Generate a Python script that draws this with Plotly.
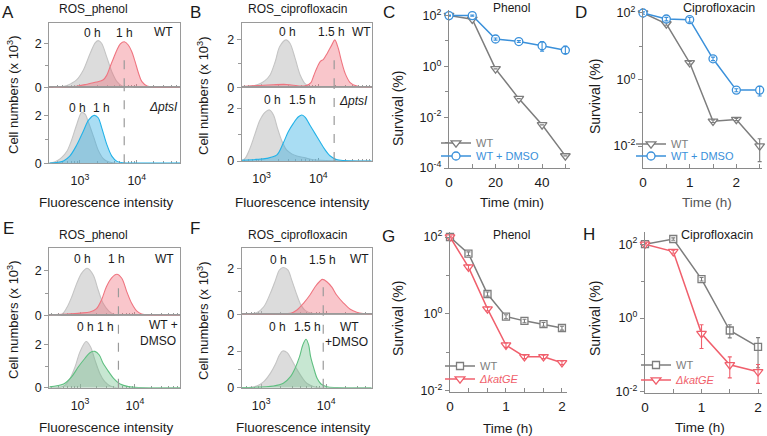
import numpy as np
import plotly.graph_objects as go

# ======================= DATA =======================
# Flow-cytometry histograms: log10(fluorescence intensity) vs cell numbers (x10^3)
# Panel A (ROS_phenol, WT / dptsI)
A_top_0h_log = [2.53, 2.65, 2.77, 2.85, 2.94, 3.06, 3.18, 3.27, 3.32, 3.38, 3.47, 3.56, 3.65, 3.74, 3.82, 3.94]
A_top_0h_n = [0.0, 0.02, 0.08, 0.18, 0.34, 0.8, 1.57, 2.06, 2.15, 2.03, 1.4, 0.72, 0.26, 0.06, 0.0, 0.0]
A_top_1h_log = [2.46, 2.77, 2.94, 3.12, 3.29, 3.41, 3.47, 3.53, 3.59, 3.65, 3.71, 3.78, 3.85, 3.91, 3.97, 4.03, 4.09, 4.18, 4.29, 4.76]
A_top_1h_n = [0.0, 0.02, 0.05, 0.14, 0.24, 0.35, 0.55, 0.95, 1.34, 1.72, 2.0, 2.1, 1.95, 1.65, 1.18, 0.65, 0.26, 0.06, 0.01, 0.0]
A_bot_0h_log = [2.46, 2.5, 2.59, 2.68, 2.77, 2.85, 2.94, 3.03, 3.09, 3.15, 3.24, 3.32, 3.41, 3.5, 3.62, 4.76]
A_bot_0h_n = [0.0, 0.02, 0.1, 0.25, 0.5, 0.95, 1.6, 2.12, 2.05, 1.7, 1.1, 0.55, 0.2, 0.06, 0.0, 0.0]
A_bot_1h_log = [2.46, 2.59, 2.71, 2.82, 2.94, 3.06, 3.15, 3.25, 3.32, 3.38, 3.47, 3.56, 3.65, 3.77, 3.94, 4.76]
A_bot_1h_n = [0.01, 0.03, 0.1, 0.3, 0.75, 1.35, 1.8, 2.0, 1.9, 1.5, 0.8, 0.3, 0.08, 0.02, 0.01, 0.01]

# Panel B (ROS_ciprofloxacin, WT / dptsI)
B_top_0h_log = [2.65, 2.68, 2.85, 2.97, 3.06, 3.15, 3.24, 3.32, 3.43, 3.5, 3.59, 3.68, 3.77, 3.85, 3.94, 4.94]
B_top_0h_n = [0.0, 0.02, 0.06, 0.15, 0.28, 0.52, 1.08, 1.72, 2.0, 1.86, 1.23, 0.52, 0.14, 0.02, 0.0, 0.0]
B_top_15h_log = [2.65, 2.91, 3.21, 3.44, 3.68, 3.79, 3.87, 3.92, 3.98, 4.04, 4.09, 4.16, 4.24, 4.29, 4.35, 4.41, 4.47, 4.56, 4.68, 4.94]
B_top_15h_n = [0.03, 0.07, 0.11, 0.12, 0.05, 0.08, 0.2, 0.5, 0.85, 1.1, 1.18, 1.45, 1.8, 2.0, 1.65, 1.08, 0.6, 0.2, 0.05, 0.0]
B_bot_0h_log = [2.65, 2.71, 2.79, 2.88, 2.97, 3.06, 3.14, 3.21, 3.28, 3.35, 3.44, 3.53, 3.62, 3.77, 3.91, 4.94]
B_bot_0h_n = [0.02, 0.1, 0.45, 1.0, 1.55, 1.85, 1.94, 1.75, 1.25, 0.8, 0.42, 0.27, 0.19, 0.12, 0.05, 0.0]
B_bot_15h_log = [2.65, 2.91, 3.09, 3.27, 3.38, 3.47, 3.56, 3.65, 3.71, 3.77, 3.85, 3.94, 4.03, 4.12, 4.21, 4.32, 4.44, 4.94]
B_bot_15h_n = [0.03, 0.06, 0.1, 0.23, 0.67, 1.11, 1.43, 1.68, 1.75, 1.66, 1.37, 1.05, 0.73, 0.42, 0.19, 0.06, 0.02, 0.0]

# Panel E (ROS_phenol, WT / WT + DMSO)
E_top_0h_log = [2.44, 2.67, 2.76, 2.85, 2.94, 3.03, 3.13, 3.24, 3.33, 3.42, 3.52, 3.61, 3.73, 4.82]
E_top_0h_n = [0.0, 0.05, 0.35, 0.84, 1.44, 1.9, 2.12, 1.82, 1.14, 0.54, 0.2, 0.05, 0.0, 0.0]
E_top_1h_log = [2.44, 2.76, 3.0, 3.18, 3.3, 3.39, 3.48, 3.58, 3.67, 3.76, 3.85, 3.94, 4.03, 4.12, 4.24, 4.82]
E_top_1h_n = [0.02, 0.06, 0.1, 0.15, 0.3, 0.69, 1.29, 1.7, 1.85, 1.67, 1.07, 0.54, 0.2, 0.06, 0.01, 0.0]
E_bot_0h_log = [2.44, 2.64, 2.73, 2.82, 2.91, 3.0, 3.11, 3.19, 3.27, 3.36, 3.45, 3.55, 3.67, 4.82]
E_bot_0h_n = [0.0, 0.02, 0.12, 0.44, 0.98, 1.69, 2.16, 1.92, 1.3, 0.67, 0.28, 0.08, 0.0, 0.0]
E_bot_1h_log = [2.44, 2.7, 2.85, 2.97, 3.09, 3.18, 3.27, 3.35, 3.42, 3.52, 3.61, 3.73, 3.88, 4.09, 4.82]
E_bot_1h_n = [0.04, 0.17, 0.52, 0.98, 1.38, 1.64, 1.7, 1.53, 1.14, 0.75, 0.44, 0.17, 0.05, 0.01, 0.0]

# Panel F (ROS_ciprofloxacin, WT / WT + DMSO)
F_top_0h_log = [2.7, 2.83, 2.93, 3.04, 3.14, 3.22, 3.28, 3.34, 3.41, 3.47, 3.54, 3.61, 3.68, 3.78, 3.91, 4.7]
F_top_0h_n = [0.0, 0.02, 0.07, 0.33, 0.91, 1.49, 1.93, 2.04, 1.93, 1.49, 0.91, 0.41, 0.16, 0.04, 0.0, 0.0]
F_top_15h_log = [2.7, 3.24, 3.45, 3.55, 3.65, 3.75, 3.83, 3.91, 3.94, 4.01, 4.09, 4.16, 4.27, 4.37, 4.47, 4.57, 4.7]
F_top_15h_n = [0.0, 0.02, 0.04, 0.19, 0.48, 0.84, 1.2, 1.46, 1.52, 1.42, 1.17, 0.84, 0.48, 0.22, 0.09, 0.03, 0.0]
F_bot_0h_log = [2.7, 2.83, 2.93, 3.04, 3.14, 3.22, 3.28, 3.33, 3.4, 3.47, 3.55, 3.63, 3.7, 3.81, 3.91, 4.7]
F_bot_0h_n = [0.0, 0.02, 0.09, 0.33, 0.78, 1.29, 1.78, 2.0, 1.91, 1.51, 1.0, 0.55, 0.24, 0.05, 0.0, 0.0]
F_bot_15h_log = [2.7, 3.19, 3.34, 3.45, 3.52, 3.59, 3.64, 3.69, 3.73, 3.76, 3.81, 3.86, 3.92, 4.01, 4.16, 4.7]
F_bot_15h_n = [0.01, 0.09, 0.24, 0.6, 1.05, 1.69, 2.33, 2.64, 2.33, 1.69, 1.05, 0.51, 0.2, 0.05, 0.01, 0.0]

# dashed reference lines: WT treated peak intensity, and height reached in the upper histogram
dash_intensity = {"A": 6000, "B": 19000, "E": 5000, "F": 9000}
dash_top = {"A": 1.5, "B": 1.45, "E": 1.6, "F": 1.3}

hist_xticks = [1000, 10000]
hist_xticklabels = ["10<sup>3</sup>", "10<sup>4</sup>"]
hist_yticks = [0, 2]
hist_yticklabels = ["0", "2"]

# Survival curves (%)
C_time = [0, 10, 20, 30, 40, 50]
C_wt = [100, 72, 0.8, 0.054, 0.005, 0.0003]
C_dmso = [100, 100, 12, 9.5, 6.5, 4.3]
C_dmso_up = [5, 6, 1.2, 0.8, 3.0, 2.0]
C_dmso_dn = [5, 6, 1.2, 0.8, 2.5, 1.1]

D_time = [0, 0.5, 1, 1.5, 2, 2.5]
D_wt = [100, 47, 3.2, 0.056, 0.063, 0.01]
D_wt_up = [4, 4, 0.3, 0.005, 0.005, 0.0066]
D_wt_dn = [4, 4, 0.3, 0.005, 0.005, 0.0066]
D_dmso = [100, 66, 63, 4.2, 0.48, 0.48]
D_dmso_up = [8, 8, 10, 0.5, 0.05, 0.15]
D_dmso_dn = [8, 8, 10, 0.5, 0.05, 0.16]

G_time = [0, 0.33, 0.67, 1, 1.33, 1.67, 2]
G_wt = [100, 37, 3.3, 0.85, 0.66, 0.54, 0.43]
G_wt_err = [5, 4, 0.4, 0.1, 0.07, 0.06, 0.05]
G_kat = [100, 16.5, 1.35, 0.155, 0.077, 0.077, 0.054]
G_kat_err = [5, 2, 0.15, 0.02, 0.008, 0.008, 0.006]

H_time = [0, 0.5, 1, 1.5, 2]
H_wt = [100, 138, 11.3, 0.46, 0.165]
H_wt_up = [5, 10, 1.2, 0.2, 0.13]
H_wt_dn = [5, 10, 1.2, 0.17, 0.12]
H_kat = [100, 63, 0.38, 0.054, 0.035]
H_kat_up = [5, 6, 0.28, 0.035, 0.02]
H_kat_dn = [5, 6, 0.23, 0.03, 0.018]

surv_yticks = [1e2, 1e0, 1e-2, 1e-4]
surv_yticklabels = ["10<sup>2</sup>", "10<sup>0</sup>", "10<sup>-2</sup>", "10<sup>-4</sup>"]
surv_yminor = [1e1, 1e-1, 1e-3]

# ======================= STYLE / LAYOUT =======================
FONT = "Liberation Sans, Arial, Helvetica, sans-serif"
W, H = 767, 436
TXT = "#1a1a1a"
BOX = "#9a9a9a"
AXC = "#8a8a8a"
GRAY_L, GRAY_F = "#c4c4c4", "rgba(185,185,185,0.50)"
RED_L, RED_F = "#ef7580", "rgba(240,105,118,0.38)"
BLUE_L, BLUE_F = "#22b2e8", "rgba(40,170,225,0.40)"
GREEN_L, GREEN_F = "#5fbf80", "rgba(95,185,125,0.35)"
S_GRAY, S_BLUE, S_RED = "#7d7d7d", "#3a90da", "#f05f6c"


def fx(p):
    return p / W


def fy(p):
    return 1 - p / H


def axn(n, k):
    return f"{k}axis" if n == 1 else f"{k}axis{n}"


def ref(n, k):
    return k if n == 1 else f"{k}{n}"


fig = go.Figure()
layout = {}
annotations = []


def ann(text, x, y, size=12, color=TXT, angle=0, xanchor="center", **kw):
    annotations.append(dict(text=text, x=fx(x), y=fy(y), xref="paper", yref="paper",
                            showarrow=False, font=dict(size=size, color=color, family=FONT),
                            textangle=angle, xanchor=xanchor, yanchor="middle", **kw))


minor_log = [m * 10 ** e for e in (2, 3, 4) for m in range(2, 10)]


def hist_panel(nt, nb, xpx, ytop, ybot, xr, yr_t, yr_b):
    common_x = dict(type="log", range=xr, domain=[fx(xpx[0]), fx(xpx[1])], showline=True,
                    linecolor=BOX, linewidth=1, mirror=True, ticks="inside", ticklen=3.5,
                    tickwidth=1, tickcolor=BOX, tickvals=hist_xticks, ticktext=hist_xticklabels,
                    minor=dict(tickvals=minor_log, ticks="inside", ticklen=2.2, tickcolor=BOX),
                    showgrid=False, zeroline=False, layer="below traces", automargin=False,
                    ticklabelstandoff=6,
                    tickfont=dict(size=12.5, color=TXT, family=FONT))
    common_y = dict(showline=True, linecolor=BOX, linewidth=1, mirror=True, ticks="outside",
                    ticklen=4, tickwidth=1, tickcolor=BOX, tickvals=hist_yticks,
                    ticktext=hist_yticklabels, automargin=False,
                    minor=dict(tickvals=[1], ticks="outside", ticklen=3, tickcolor=BOX),
                    showgrid=False, zeroline=False, tickfont=dict(size=12.5, color=TXT, family=FONT))
    layout[axn(nt, "x")] = dict(common_x, anchor=ref(nt, "y"), showticklabels=False)
    layout[axn(nb, "x")] = dict(common_x, anchor=ref(nb, "y"))
    layout[axn(nt, "y")] = dict(common_y, anchor=ref(nt, "x"), range=yr_t,
                                domain=[fy(ytop[1]), fy(ytop[0])])
    layout[axn(nb, "y")] = dict(common_y, anchor=ref(nb, "x"), range=yr_b,
                                domain=[fy(ybot[1]), fy(ybot[0])])


def hist_trace(n, logx, cnt, lc, fc):
    fig.add_trace(go.Scatter(x=10 ** np.array(logx), y=cnt, mode="lines",
                             line=dict(color=lc, width=1.1, shape="spline", smoothing=0.9),
                             fill="tozeroy", fillcolor=fc, showlegend=False, hoverinfo="skip",
                             xaxis=ref(n, "x"), yaxis=ref(n, "y")))


def dash_line(n, xval, ytop_val):
    fig.add_trace(go.Scatter(x=[xval, xval], y=[0, ytop_val], mode="lines",
                             line=dict(color="#9a9a9a", width=1.2, dash="dash"),
                             showlegend=False, hoverinfo="skip",
                             xaxis=ref(n, "x"), yaxis=ref(n, "y")))


# axes 1..8 histograms
hist_panel(1, 2, (49.3, 180), (23.3, 87.3), (87.3, 163.3), [2.46, 4.76], [0, 2.95], [0, 3.17])
hist_panel(3, 4, (241.7, 371.7), (23.3, 87.3), (87.3, 161), [2.65, 4.94], [0, 2.7], [0, 2.8])
hist_panel(5, 6, (49.3, 180), (247.7, 315.3), (315.3, 387.7), [2.44, 4.82], [0, 3.05], [0, 3.39])
hist_panel(7, 8, (241.7, 371.7), (247.7, 314.3), (314.3, 387.7), [2.70, 4.70], [0, 2.9], [0, 4.0])

hist_trace(1, A_top_0h_log, A_top_0h_n, GRAY_L, GRAY_F)
hist_trace(1, A_top_1h_log, A_top_1h_n, RED_L, RED_F)
hist_trace(2, A_bot_0h_log, A_bot_0h_n, GRAY_L, GRAY_F)
hist_trace(2, A_bot_1h_log, A_bot_1h_n, BLUE_L, BLUE_F)
hist_trace(3, B_top_0h_log, B_top_0h_n, GRAY_L, GRAY_F)
hist_trace(3, B_top_15h_log, B_top_15h_n, RED_L, RED_F)
hist_trace(4, B_bot_0h_log, B_bot_0h_n, GRAY_L, GRAY_F)
hist_trace(4, B_bot_15h_log, B_bot_15h_n, BLUE_L, BLUE_F)
hist_trace(5, E_top_0h_log, E_top_0h_n, GRAY_L, GRAY_F)
hist_trace(5, E_top_1h_log, E_top_1h_n, RED_L, RED_F)
hist_trace(6, E_bot_0h_log, E_bot_0h_n, GRAY_L, GRAY_F)
hist_trace(6, E_bot_1h_log, E_bot_1h_n, GREEN_L, GREEN_F)
hist_trace(7, F_top_0h_log, F_top_0h_n, GRAY_L, GRAY_F)
hist_trace(7, F_top_15h_log, F_top_15h_n, RED_L, RED_F)
hist_trace(8, F_bot_0h_log, F_bot_0h_n, GRAY_L, GRAY_F)
hist_trace(8, F_bot_15h_log, F_bot_15h_n, GREEN_L, GREEN_F)

for key, (nt, nb, ybmax) in {"A": (1, 2, 3.17), "B": (3, 4, 2.8), "E": (5, 6, 3.39), "F": (7, 8, 4.0)}.items():
    dash_line(nt, dash_intensity[key], dash_top[key])
    dash_line(nb, dash_intensity[key], ybmax)


# ---------------- survival panels ----------------
def surv_axes(n, xpx, ypx, xr, yr, xt, xminor):
    layout[axn(n, "x")] = dict(domain=[fx(xpx[0]), fx(xpx[1])], range=xr, anchor=ref(n, "y"),
                               showline=True, linecolor=AXC, linewidth=1.4, ticks="inside",
                               ticklen=4, tickwidth=1.2, tickcolor=AXC, tickvals=xt,
                               minor=dict(tickvals=xminor, ticks="inside", ticklen=3.5, tickcolor=AXC),
                               showgrid=False, zeroline=False, automargin=False,
                               ticklabelstandoff=2,
                               tickfont=dict(size=13.5, color=TXT, family=FONT))
    layout[axn(n, "y")] = dict(domain=[fy(ypx[1]), fy(ypx[0])], type="log", range=yr,
                               anchor=ref(n, "x"), showline=True, linecolor=AXC, linewidth=1.4,
                               ticks="outside", ticklen=4, tickwidth=1.2, tickcolor=AXC,
                               tickvals=surv_yticks, ticktext=surv_yticklabels, automargin=False,
                               minor=dict(tickvals=surv_yminor, ticks="outside", ticklen=2.5, tickcolor=AXC),
                               showgrid=False, zeroline=False,
                               tickfont=dict(size=12.5, color=TXT, family=FONT))


surv_axes(9, (449, 570), (10, 168), [0, 52], [-4, 2.22], [0, 20, 40], [10, 30, 50])
surv_axes(10, (643, 762), (8, 168), [0, 2.55], [-2.66, 2.15], [0, 1, 2], [0.5, 1.5, 2.5])
surv_axes(11, (450, 567), (232, 392), [0, 2.09], [-2.03, 2.13], [0, 1, 2], [1 / 3, 2 / 3, 4 / 3, 5 / 3, 2.0])
surv_axes(12, (645, 762), (232, 393), [0, 2.07], [-2.03, 2.33], [0, 1, 2], [0.5, 1.5])


def surv(n, t, y, up, dn, color, symbol, size, name, legend):
    fig.add_trace(go.Scatter(x=t, y=y, mode="lines+markers", name=name, legend=legend,
                             line=dict(color=color, width=1.5),
                             marker=dict(symbol=symbol, size=size, color="white",
                                         line=dict(color=color, width=1.3)),
                             cliponaxis=False, xaxis=ref(n, "x"), yaxis=ref(n, "y")))
    fig.add_trace(go.Scatter(x=t, y=y, mode="markers", showlegend=False, hoverinfo="skip",
                             marker=dict(size=1, color="rgba(0,0,0,0)"),
                             error_y=dict(type="data", symmetric=False, array=up, arrayminus=dn,
                                          color=color, thickness=1.1, width=2),
                             cliponaxis=False, xaxis=ref(n, "x"), yaxis=ref(n, "y")))


def lname(t, c, italic=False):
    s = f"<span style='color:{c}'>{t}</span>"
    return f"<i>{s}</i>" if italic else s


surv(9, C_time, C_wt, [0] * 6, [0] * 6, S_GRAY, "triangle-down", 8.5, lname("WT", S_GRAY), "legend")
surv(9, C_time, C_dmso, C_dmso_up, C_dmso_dn, S_BLUE, "circle", 8, lname("WT + DMSO", S_BLUE), "legend2")
surv(10, D_time, D_wt, D_wt_up, D_wt_dn, S_GRAY, "triangle-down", 8.5, lname("WT", S_GRAY), "legend3")
surv(10, D_time, D_dmso, D_dmso_up, D_dmso_dn, S_BLUE, "circle", 8, lname("WT + DMSO", S_BLUE), "legend4")
surv(11, G_time, G_wt, G_wt_err, G_wt_err, S_GRAY, "square", 7, lname("WT", S_GRAY), "legend5")
surv(11, G_time, G_kat, G_kat_err, G_kat_err, S_RED, "triangle-down", 8.5, lname("ΔkatGE", S_RED, True), "legend6")
surv(12, H_time, H_wt, H_wt_up, H_wt_dn, S_GRAY, "square", 7, lname("WT", S_GRAY), "legend7")
surv(12, H_time, H_kat, H_kat_up, H_kat_dn, S_RED, "triangle-down", 8.5, lname("ΔkatGE", S_RED, True), "legend8")

# one legend per entry so that the rows can sit as tightly as in the reference
leg_common = dict(xanchor="left", yanchor="middle", bgcolor="rgba(0,0,0,0)", borderwidth=0,
                  font=dict(size=11, family=FONT), tracegroupgap=0, itemwidth=30)
for key, (lx, ly) in {"legend": (436, 143), "legend2": (436, 156),
                      "legend3": (631, 144), "legend4": (631, 156),
                      "legend5": (440, 366), "legend6": (440, 379),
                      "legend7": (636, 365), "legend8": (636, 380)}.items():
    layout[key] = dict(leg_common, x=fx(lx), y=fy(ly))

# ---------------- text ----------------
for L, x, y in [("A", 8, 12), ("B", 195, 12), ("C", 389, 12), ("D", 581, 12),
                ("E", 8, 228), ("F", 195, 228), ("G", 388, 236), ("H", 589, 234)]:
    ann(L, x, y, size=17)

ann("ROS_phenol", 93, 9, 12)
ann("ROS_ciprofloxacin", 297, 9, 12)
ann("Phenol", 511, 8, 12)
ann("Ciprofloxacin", 719, 8, 12.5)
ann("ROS_phenol", 93, 235, 12)
ann("ROS_ciprofloxacin", 297, 235, 12)
ann("Phenol", 511, 235, 12)
ann("Ciprofloxacin", 717, 235, 12.5)

ycap = "Cell numbers (x 10<sup>3</sup>)"
ann(ycap, 13, 95, 13, angle=-90)
ann(ycap, 203, 95, 13, angle=-90)
ann(ycap, 13, 320, 13, angle=-90)
ann(ycap, 203, 320, 13, angle=-90)
ann("Fluorescence intensity", 106, 202, 13.5)
ann("Fluorescence intensity", 302, 202, 13.5)
ann("Fluorescence intensity", 106, 427, 13.5)
ann("Fluorescence intensity", 303, 427, 13.5)

ann("Survival (%)", 398, 109, 14, angle=-90)
ann("Survival (%)", 595, 97, 14, angle=-90)
ann("Survival (%)", 398, 319, 14, angle=-90)
ann("Survival (%)", 595, 319, 14, angle=-90)
ann("Time (min)", 512, 203, 13.5)
ann("Time (h)", 707, 203, 13.5, color="#555")
ann("Time (h)", 508, 428, 13.5)
ann("Time (h)", 700, 427, 13.5)

# histogram labels
ann("0 h", 92, 33, 12); ann("1 h", 124, 33, 12); ann("WT", 163, 32, 12)
ann("0 h", 77, 108, 12); ann("1 h", 101, 108, 12); ann("<i>ΔptsI</i>", 163, 107, 12)
ann("0 h", 287, 32, 12); ann("1.5 h", 331, 32, 12); ann("WT", 361, 32, 12)
ann("0 h", 272, 100, 12); ann("1.5 h", 302, 100, 12); ann("<i>ΔptsI</i>", 353, 101, 12)
ann("0 h", 82, 259, 12); ann("1 h", 116, 259, 12); ann("WT", 164, 259, 12)
ann("0 h 1 h", 95, 327, 12); ann("WT +", 163, 325, 12); ann("DMSO", 158, 341, 12)
ann("0 h", 278, 260, 12); ann("1.5 h", 322, 260, 12); ann("WT", 359, 259, 12)
ann("0 h", 277, 327, 12); ann("1.5 h", 307, 327, 12); ann("WT", 349, 327, 12); ann("+DMSO", 346, 342, 12)

fig.update_layout(**layout)
fig.update_layout(width=W, height=H, margin=dict(l=0, r=0, t=0, b=0, autoexpand=False),
                  paper_bgcolor="white", plot_bgcolor="rgba(0,0,0,0)",
                  font=dict(family=FONT, color=TXT), annotations=annotations, showlegend=True)

# the page's default 8px body margin would offset the whole figure
fig.write_html("out.html", config={"displayModeBar": False},
               post_script="document.body.style.margin='0px';")
